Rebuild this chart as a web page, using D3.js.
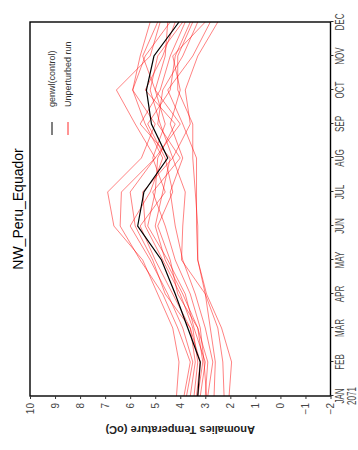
<!DOCTYPE html>
<html><head><meta charset="utf-8">
<script src="https://cdn.jsdelivr.net/npm/d3@7"></script>
<style>body{margin:0;background:#fff}svg{display:block}</style>
</head><body>
<script>
const months = ["JAN","FEB","MAR","APR","MAY","JUN","JUL","AUG","SEP","OCT","NOV","DEC"];
const valueTicks = [-2,-1,0,1,2,3,4,5,6,7,8,9,10];
const title = "NW_Peru_Equador";
const yLabel = "Anomalies Temperature (oC)";
const yearLabel = "2071";
const legendLabels = ["genwl(control)", "Unperturbed run"];
const control = [3.3, 3.2, 3.7, 4.2, 4.75, 5.7, 5.45, 4.5, 5.15, 5.35, 5.05, 4.05];
const run1  = [4.15, 4.05, 4.3, 4.9, 5.5, 6.65, 6.9, 5.55, 5.0, 5.9, 5.6, 5.2];
const run2  = [3.85, 3.6, 4.1, 4.7, 5.6, 6.4, 6.35, 5.0, 5.8, 6.55, 5.2, 4.8];
const run3  = [3.75, 3.5, 3.9, 4.5, 5.2, 6.0, 5.2, 4.7, 5.4, 5.9, 5.4, 4.4];
const run4  = [3.6, 3.4, 3.6, 4.3, 5.0, 5.6, 4.6, 5.1, 4.6, 5.0, 4.6, 4.5];
const run5  = [3.45, 3.3, 3.5, 4.0, 4.7, 5.4, 5.5, 4.3, 4.8, 5.2, 4.9, 3.9];
const run6  = [3.3, 3.1, 3.3, 4.1, 4.4, 4.9, 4.3, 4.6, 5.3, 4.4, 4.2, 3.6];
const run7  = [3.2, 3.0, 3.45, 3.8, 4.5, 5.3, 5.0, 4.9, 4.2, 5.4, 4.7, 4.2];
const run8  = [2.95, 3.05, 3.2, 3.6, 4.2, 4.6, 5.1, 4.0, 4.9, 4.7, 3.9, 3.3];
const run9  = [2.9, 2.7, 3.0, 3.4, 3.9, 4.2, 4.4, 3.9, 4.4, 4.0, 4.3, 3.0];
const run10 = [2.65, 2.6, 2.8, 3.0, 3.95, 3.9, 3.8, 4.3, 3.6, 3.8, 3.3, 2.5];
const run11 = [2.25, 2.3, 2.5, 3.0, 3.3, 3.35, 3.35, 3.35, 3.9, 4.5, 3.5, 2.8];
const run12 = [2.05, 1.95, 2.35, 2.95, 3.3, 3.3, 3.4, 3.5, 3.5, 4.1, 4.1, 3.5];
const run13 = [3.35, 3.2, 3.6, 4.6, 5.1, 5.8, 6.0, 5.0, 4.0, 5.0, 5.5, 4.9];
const run14 = [3.0, 2.9, 3.3, 3.9, 4.6, 5.0, 4.7, 4.4, 5.6, 4.8, 4.4, 3.8];
const runs = [run1,run2,run3,run4,run5,run6,run7,run8,run9,run10,run11,run12,run13,run14];

const W = 358, H = 450;
const svg = d3.select("body").append("svg").attr("width", W).attr("height", H);
// whole GrADS page is rotated 90° counter-clockwise
const g = svg.append("g").attr("transform", `translate(0,${H}) rotate(-90)`);
const L = 54, R = 428, T = 30, B = 330.5;
const x = d3.scaleLinear().domain([0, 11]).range([L, R]);
const y = d3.scaleLinear().domain([-2, 10]).range([B, T]);
const font = "Liberation Sans, Arial, sans-serif";

const line = d3.line().x((d, i) => x(i)).y(d => y(d));
g.append("g").selectAll("path").data(runs).join("path")
  .attr("d", line).attr("fill", "none").attr("stroke", "#ff0000")
  .attr("stroke-opacity", 0.7).attr("stroke-width", 0.7);
g.append("path").attr("d", line(control)).attr("fill", "none").attr("stroke", "#000").attr("stroke-width", 1.2);

g.append("rect").attr("x", L).attr("y", T).attr("width", R - L).attr("height", B - T)
  .attr("fill", "none").attr("stroke", "#000").attr("stroke-width", 1.4);

// month axis
const xa = g.append("g").attr("transform", `translate(0,${B})`)
  .call(d3.axisBottom(x).tickValues(d3.range(12)).tickSize(3).tickFormat(""));
xa.select(".domain").remove();
xa.selectAll("line").attr("stroke", "#333");
g.append("g").selectAll("text").data(months).join("text")
  .attr("transform", (d, i) => `translate(${x(i)},${B + 13}) scale(0.62,1)`)
  .attr("text-anchor", "middle").attr("font-family", font).attr("font-size", 13)
  .attr("fill", "#444").text(d => d);
g.append("text").attr("transform", `translate(${x(0)},${B + 25}) scale(0.62,1)`)
  .attr("text-anchor", "middle").attr("font-family", font).attr("font-size", 13)
  .attr("fill", "#444").text(yearLabel);

// value axis
const ya = g.append("g").attr("transform", `translate(${L},0)`)
  .call(d3.axisLeft(y).tickValues(valueTicks).tickSize(3).tickPadding(4)
    .tickFormat(d => d < 0 ? "\u2212" + Math.abs(d) : d));
ya.select(".domain").remove();
ya.selectAll("line").attr("stroke", "#333");
ya.selectAll("text").attr("font-family", font).attr("font-size", 10).attr("fill", "#444");

// title
g.append("text").attr("x", (L + R) / 2).attr("y", 23).attr("text-anchor", "middle")
  .attr("font-family", font).attr("font-size", 14).attr("fill", "#000").text(title);
// y label
g.append("text").attr("transform", `translate(24,${(T + B) / 2}) rotate(-90)`)
  .attr("text-anchor", "middle").attr("font-family", font).attr("font-size", 11)
  .attr("font-weight", "bold").attr("fill", "#222").text(yLabel);

// legend
const leg = g.append("g");
const legColors = ["#000", "#ff2a2a"];
const legY = [52, 68];
leg.selectAll("line").data(legendLabels).join("line")
  .attr("x1", 315).attr("x2", 328).attr("y1", (d, i) => legY[i]).attr("y2", (d, i) => legY[i])
  .attr("stroke", (d, i) => legColors[i]).attr("stroke-width", 1);
leg.selectAll("text").data(legendLabels).join("text")
  .attr("x", 343).attr("y", (d, i) => legY[i]).attr("dy", "0.35em")
  .attr("font-family", font).attr("font-size", 9).attr("fill", "#333").text(d => d);
</script>
</body></html>
